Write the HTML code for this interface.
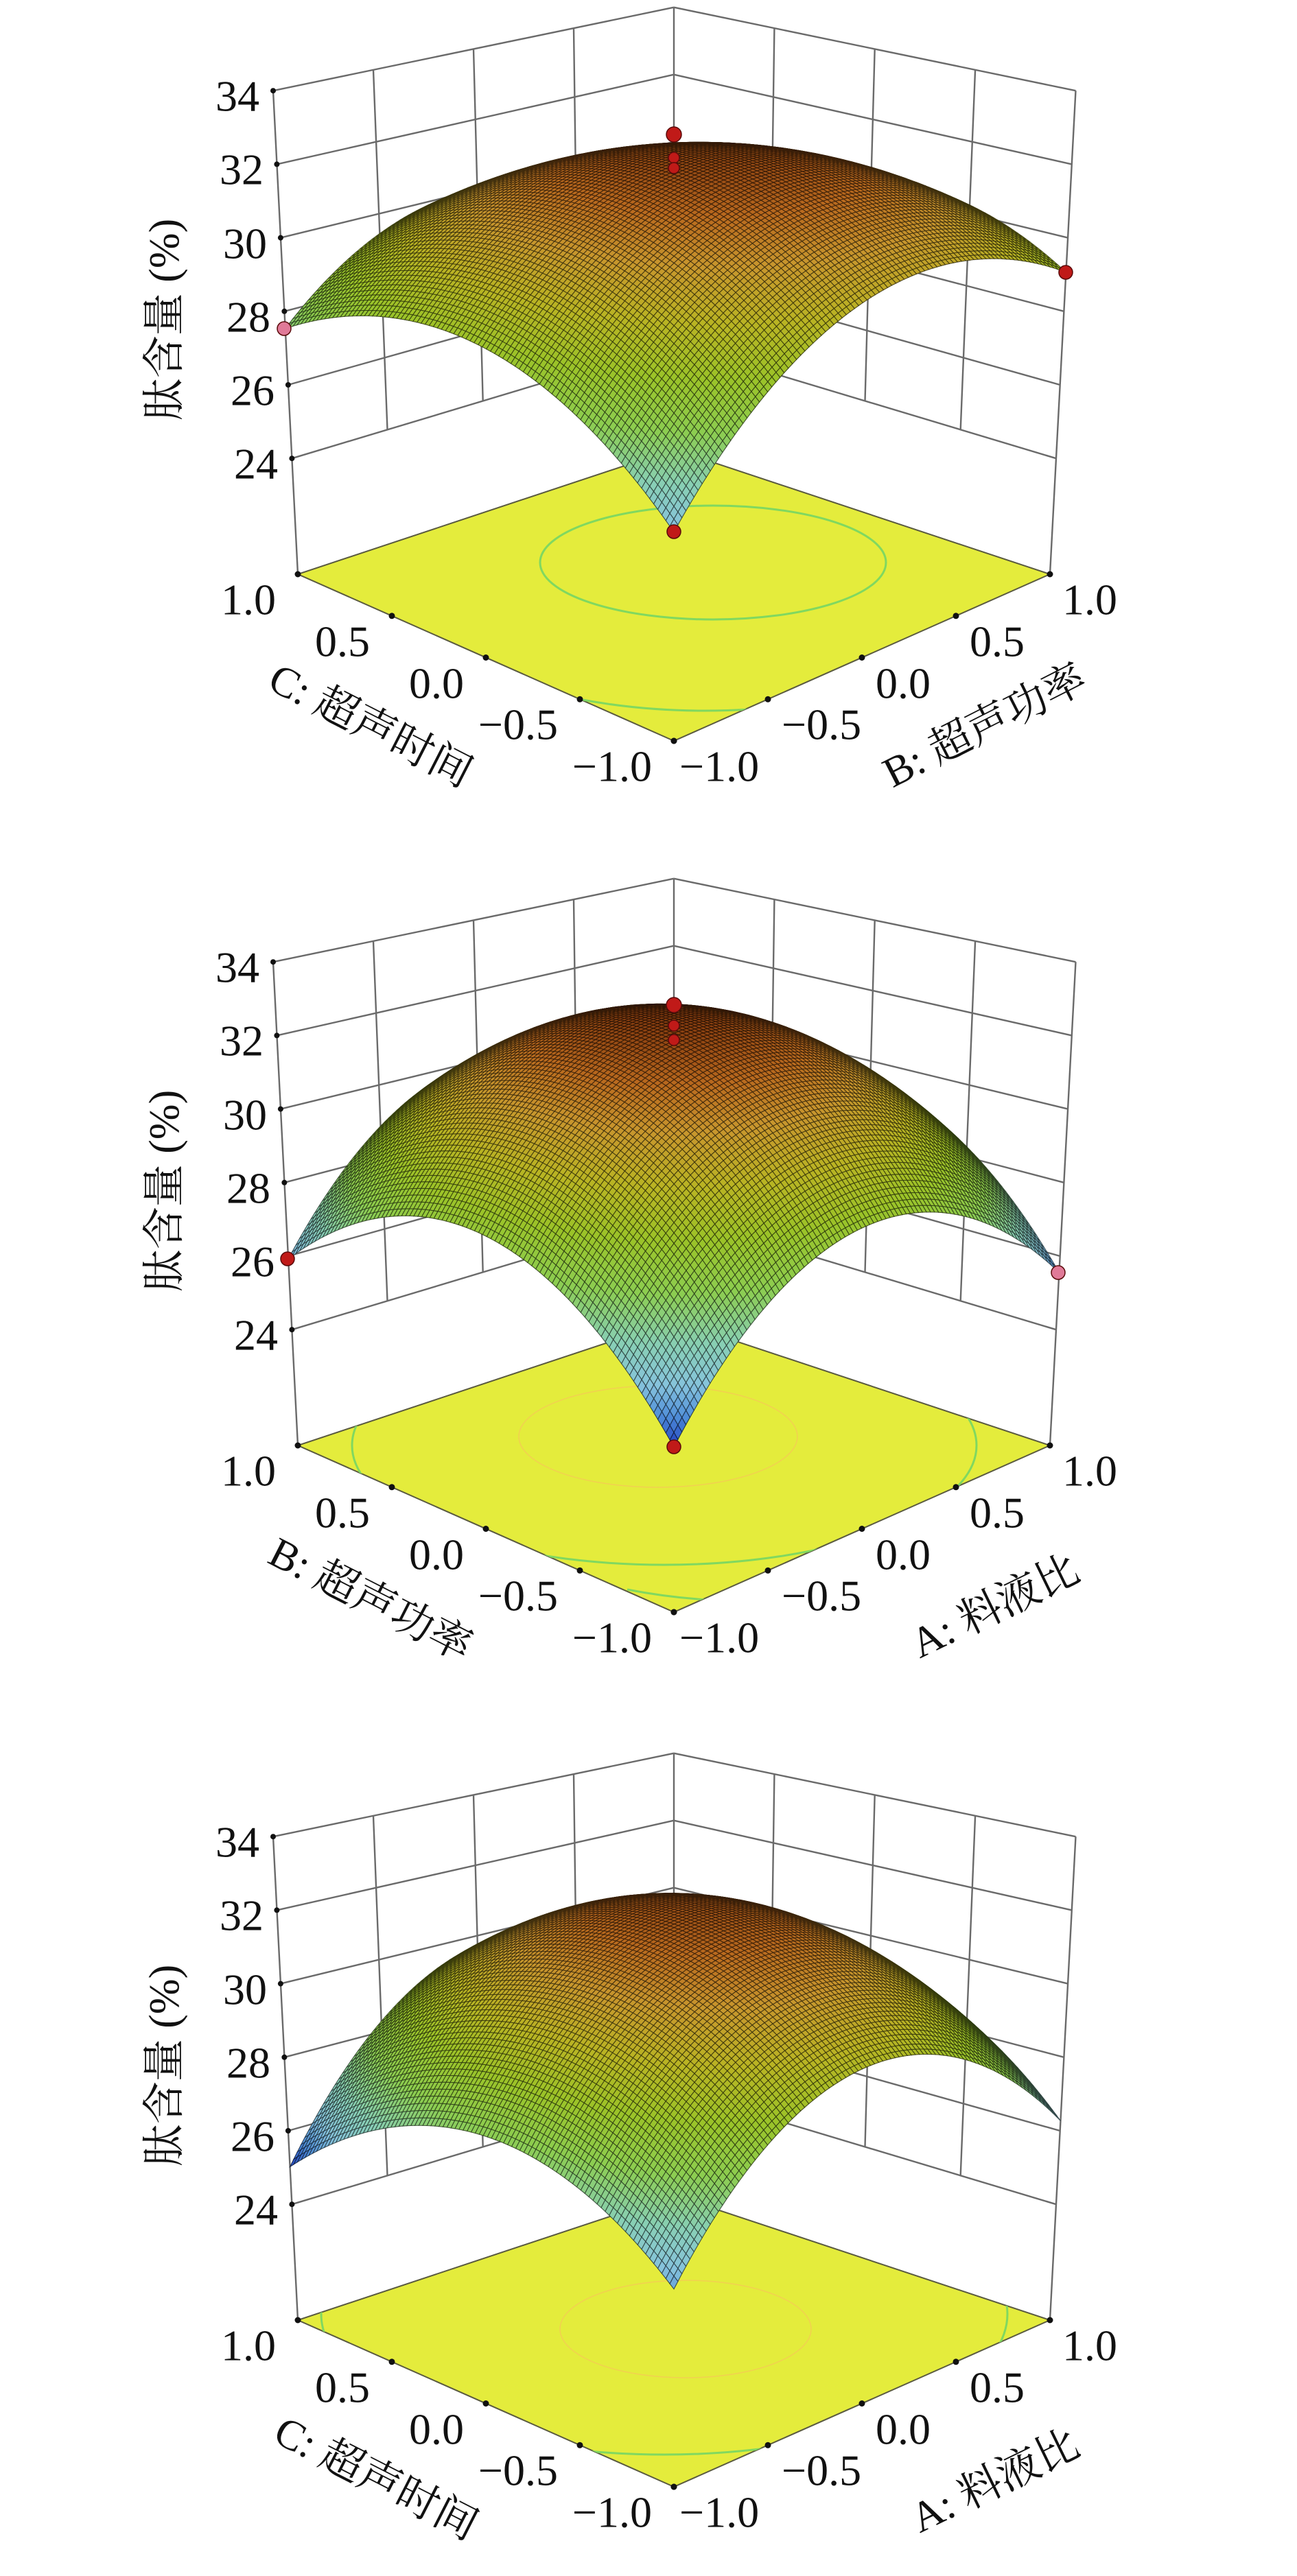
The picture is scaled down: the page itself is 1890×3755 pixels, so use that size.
<!DOCTYPE html>
<html><head><meta charset="utf-8">
<style>
html,body{margin:0;padding:0;background:#fff;}
svg{display:block;}
text{font-family:"Liberation Serif","Noto Serif CJK SC",serif;fill:#111;}
.n{font-size:64px;}
.t{font-size:62px;}
</style></head>
<body>
<svg id="s" width="1890" height="3755" viewBox="0 0 1890 3755" xmlns="http://www.w3.org/2000/svg">
<g id="g"></g>
<g transform="translate(0,0)">
<text class="n" x="378" y="140" text-anchor="end" dominant-baseline="central">34</text>
<text class="n" x="384" y="247" text-anchor="end" dominant-baseline="central">32</text>
<text class="n" x="389" y="355" text-anchor="end" dominant-baseline="central">30</text>
<text class="n" x="394" y="462" text-anchor="end" dominant-baseline="central">28</text>
<text class="n" x="400" y="569" text-anchor="end" dominant-baseline="central">26</text>
<text class="n" x="405" y="676" text-anchor="end" dominant-baseline="central">24</text>
<text class="t" transform="translate(240,466) rotate(-90)" text-anchor="middle" dominant-baseline="central">肽含量 (%)</text>
<text class="n" x="402" y="874" text-anchor="end" dominant-baseline="central">1.0</text>
<text class="n" x="539" y="935" text-anchor="end" dominant-baseline="central">0.5</text>
<text class="n" x="676" y="996" text-anchor="end" dominant-baseline="central">0.0</text>
<text class="n" x="813" y="1056" text-anchor="end" dominant-baseline="central">−0.5</text>
<text class="n" x="950" y="1117" text-anchor="end" dominant-baseline="central">−1.0</text>
<text class="n" x="990" y="1117" dominant-baseline="central">−1.0</text>
<text class="n" x="1139" y="1056" dominant-baseline="central">−0.5</text>
<text class="n" x="1276" y="996" dominant-baseline="central">0.0</text>
<text class="n" x="1413" y="935" dominant-baseline="central">0.5</text>
<text class="n" x="1548" y="874" dominant-baseline="central">1.0</text>
<text class="t" transform="translate(540,1058) rotate(27)" text-anchor="middle" dominant-baseline="central">C: 超声时间</text>
<text class="t" transform="translate(1435,1058) rotate(-27)" text-anchor="middle" dominant-baseline="central">B: 超声功率</text>
</g>
<g transform="translate(0,1270)">
<text class="n" x="378" y="140" text-anchor="end" dominant-baseline="central">34</text>
<text class="n" x="384" y="247" text-anchor="end" dominant-baseline="central">32</text>
<text class="n" x="389" y="355" text-anchor="end" dominant-baseline="central">30</text>
<text class="n" x="394" y="462" text-anchor="end" dominant-baseline="central">28</text>
<text class="n" x="400" y="569" text-anchor="end" dominant-baseline="central">26</text>
<text class="n" x="405" y="676" text-anchor="end" dominant-baseline="central">24</text>
<text class="t" transform="translate(240,466) rotate(-90)" text-anchor="middle" dominant-baseline="central">肽含量 (%)</text>
<text class="n" x="402" y="874" text-anchor="end" dominant-baseline="central">1.0</text>
<text class="n" x="539" y="935" text-anchor="end" dominant-baseline="central">0.5</text>
<text class="n" x="676" y="996" text-anchor="end" dominant-baseline="central">0.0</text>
<text class="n" x="813" y="1056" text-anchor="end" dominant-baseline="central">−0.5</text>
<text class="n" x="950" y="1117" text-anchor="end" dominant-baseline="central">−1.0</text>
<text class="n" x="990" y="1117" dominant-baseline="central">−1.0</text>
<text class="n" x="1139" y="1056" dominant-baseline="central">−0.5</text>
<text class="n" x="1276" y="996" dominant-baseline="central">0.0</text>
<text class="n" x="1413" y="935" dominant-baseline="central">0.5</text>
<text class="n" x="1548" y="874" dominant-baseline="central">1.0</text>
<text class="t" transform="translate(540,1062) rotate(27)" text-anchor="middle" dominant-baseline="central">B: 超声功率</text>
<text class="t" transform="translate(1450,1072) rotate(-26)" text-anchor="middle" dominant-baseline="central">A: 料液比</text>
</g>
<g transform="translate(0,2545)">
<text class="n" x="378" y="140" text-anchor="end" dominant-baseline="central">34</text>
<text class="n" x="384" y="247" text-anchor="end" dominant-baseline="central">32</text>
<text class="n" x="389" y="355" text-anchor="end" dominant-baseline="central">30</text>
<text class="n" x="394" y="462" text-anchor="end" dominant-baseline="central">28</text>
<text class="n" x="400" y="569" text-anchor="end" dominant-baseline="central">26</text>
<text class="n" x="405" y="676" text-anchor="end" dominant-baseline="central">24</text>
<text class="t" transform="translate(240,466) rotate(-90)" text-anchor="middle" dominant-baseline="central">肽含量 (%)</text>
<text class="n" x="402" y="874" text-anchor="end" dominant-baseline="central">1.0</text>
<text class="n" x="539" y="935" text-anchor="end" dominant-baseline="central">0.5</text>
<text class="n" x="676" y="996" text-anchor="end" dominant-baseline="central">0.0</text>
<text class="n" x="813" y="1056" text-anchor="end" dominant-baseline="central">−0.5</text>
<text class="n" x="950" y="1117" text-anchor="end" dominant-baseline="central">−1.0</text>
<text class="n" x="990" y="1117" dominant-baseline="central">−1.0</text>
<text class="n" x="1139" y="1056" dominant-baseline="central">−0.5</text>
<text class="n" x="1276" y="996" dominant-baseline="central">0.0</text>
<text class="n" x="1413" y="935" dominant-baseline="central">0.5</text>
<text class="n" x="1548" y="874" dominant-baseline="central">1.0</text>
<text class="t" transform="translate(548,1068) rotate(27)" text-anchor="middle" dominant-baseline="central">C: 超声时间</text>
<text class="t" transform="translate(1450,1072) rotate(-26)" text-anchor="middle" dominant-baseline="central">A: 料液比</text>
</g>
</svg>
<script>
(function(){
var Z0=20.85;
function proj(c,b,z,o){
  var wF=(1-c)*(1-b)/4,wL=(1+c)*(1-b)/4,wR=(1-c)*(1+b)/4,wB=(1+c)*(1+b)/4;
  var bx=982*(wF+wB)+434*wL+1530*wR;
  var by=1080*wF+837*(wL+wR)+655*wB;
  var vx=-2.74*wL+2.85*wR;
  var vy=58*wF+53.6*(wL+wR)+49*wB;
  var dz=z-Z0;
  return [bx+vx*dz,by-vy*dz+o];
}
var stops=[[25.0,[32,64,192]],[25.6,[79,142,216]],[26.2,[134,195,220]],[27.0,[136,207,180]],
[28.0,[140,205,80]],[29.0,[155,195,40]],[30.0,[185,180,35]],[31.0,[200,150,45]],
[31.8,[185,105,30]],[32.6,[135,60,15]]];
function col(z){
  if(z<=stops[0][0])return stops[0][1];
  for(var i=1;i<stops.length;i++){
    if(z<=stops[i][0]){var a=stops[i-1],b=stops[i],t=(z-a[0])/(b[0]-a[0]);
      return [0,1,2].map(function(k){return Math.round(a[1][k]+(b[1][k]-a[1][k])*t);});}
  }
  return stops[stops.length-1][1];
}
var panels=[
 {o:0,a:32.35,p:-0.115,q:0.65,r:-0.83,s:-2.205,t:-2.68,
  ell:[[1039,820,252,83,'#80d860',3]],
  arcs:['M838,1018 Q960,1042 1093,1034'],
  dots:[[982,196,11,'#c01a18'],[982,230,8,'#c01a18'],[982,245,8,'#c01a18'],[982,775,10,'#c01a18'],[1553,397,10,'#c01a18'],[414,479,10,'#e07a98']]},
 {o:1270,a:32.54,p:0.617,q:0.432,r:0.156,s:-3.127,t:-3.522,
  ell:[[968,837,455,174,'#80d860',3],[959,824,203,74,'#f2d050',1.5]],
  arcs:['M914,1047 Q970,1058 1030,1062'],
  dots:[[982,195,11,'#c01a18'],[982,225,8,'#c01a18'],[982,246,8,'#c01a18'],[419,565,10,'#c01a18'],[1542,585,10,'#e07a98'],[982,839,10,'#c01a18']]},
 {o:2545,a:32.17,p:0.03,q:0.655,r:0.43,s:-2.46,t:-3.635,
  ell:[[968,828,500,205,'#80d860',3],[999,850,183,71,'#f2d050',1.5]],
  arcs:[],dots:[]}
];
var h=[];
function L(p1,p2,st,w){h.push('<line x1="'+p1[0].toFixed(1)+'" y1="'+p1[1].toFixed(1)+'" x2="'+p2[0].toFixed(1)+'" y2="'+p2[1].toFixed(1)+'" stroke="'+st+'" stroke-width="'+w+'"/>');}
panels.forEach(function(P,pi){
  var o=P.o;
  var gc='#6a6a6a',gw=2.4;
  for(var z=24;z<=34;z+=2){
    L(proj(1,-1,z,o),proj(1,1,z,o),gc,gw);
    L(proj(-1,1,z,o),proj(1,1,z,o),gc,gw);
  }
  [-0.5,0,0.5].forEach(function(v){
    L(proj(1,v,24,o),proj(1,v,34,o),gc,gw);
    L(proj(v,1,24,o),proj(v,1,34,o),gc,gw);
  });
  L(proj(1,-1,Z0,o),proj(1,-1,34,o),gc,gw);
  L(proj(-1,1,Z0,o),proj(-1,1,34,o),gc,gw);
  L(proj(1,1,Z0,o),proj(1,1,34,o),gc,gw);
  for(var z2=24;z2<=34;z2+=2){var tp=proj(1,-1,z2,o);h.push('<circle cx="'+tp[0].toFixed(1)+'" cy="'+tp[1].toFixed(1)+'" r="4" fill="#111"/>');}
  var cs=[proj(-1,-1,Z0,o),proj(1,-1,Z0,o),proj(1,1,Z0,o),proj(-1,1,Z0,o)];
  var fp=cs.map(function(p){return p[0].toFixed(1)+','+p[1].toFixed(1);}).join(' ');
  h.push('<clipPath id="fc'+pi+'"><polygon points="'+fp+'"/></clipPath>');
  h.push('<polygon points="'+fp+'" fill="#e4ec3c" stroke="#5a5a40" stroke-width="2"/>');
  h.push('<g clip-path="url(#fc'+pi+')" fill="none">');
  P.ell.forEach(function(e){h.push('<ellipse cx="'+e[0]+'" cy="'+(e[1]+o)+'" rx="'+e[2]+'" ry="'+e[3]+'" stroke="'+e[4]+'" stroke-width="'+e[5]+'"/>');});
  P.arcs.forEach(function(d){h.push('<path transform="translate(0,'+o+')" d="'+d+'" stroke="#80d860" stroke-width="3"/>');});
  h.push('</g>');
  [1,0.5,0,-0.5,-1].forEach(function(v){
    var a1=proj(v,-1,Z0,o),a2=proj(-1,v,Z0,o);
    h.push('<circle cx="'+a1[0].toFixed(1)+'" cy="'+a1[1].toFixed(1)+'" r="4.5" fill="#111"/>');
    h.push('<circle cx="'+a2[0].toFixed(1)+'" cy="'+a2[1].toFixed(1)+'" r="4.5" fill="#111"/>');
  });
  var N=96,q=[];
  function f(c,b){return P.a+P.p*c+P.q*b+P.r*c*b+P.s*c*c+P.t*b*b;}
  for(var i=0;i<N;i++)for(var j=0;j<N;j++){
    var c0=-1+2*i/N,c1=-1+2*(i+1)/N,b0=-1+2*j/N,b1=-1+2*(j+1)/N;
    var z00=f(c0,b0),z10=f(c1,b0),z11=f(c1,b1),z01=f(c0,b1);
    var pts=[proj(c0,b0,z00,o),proj(c1,b0,z10,o),proj(c1,b1,z11,o),proj(c0,b1,z01,o)];
    var zm=(z00+z10+z11+z01)/4;
    q.push({d:(c0+c1+b0+b1),pts:pts,z:zm});
  }
  q.sort(function(A,B){return B.d-A.d;});
  q.forEach(function(Q){
    var c=col(Q.z);
    var fill='rgb('+c[0]+','+c[1]+','+c[2]+')';
    var sc='rgb('+Math.round(c[0]*0.3)+','+Math.round(c[1]*0.3)+','+Math.round(c[2]*0.3)+')';
    h.push('<polygon points="'+Q.pts.map(function(p){return p[0].toFixed(1)+','+p[1].toFixed(1);}).join(' ')+'" fill="'+fill+'" stroke="'+sc+'" stroke-width="1.1" stroke-opacity="0.85"/>');
  });
  P.dots.forEach(function(d){h.push('<circle cx="'+d[0]+'" cy="'+(d[1]+o)+'" r="'+d[2]+'" fill="'+d[3]+'" stroke="#5a0a0a" stroke-width="1.5"/>');});
});
document.getElementById('g').innerHTML=h.join('');
})();
</script>
</body></html>
